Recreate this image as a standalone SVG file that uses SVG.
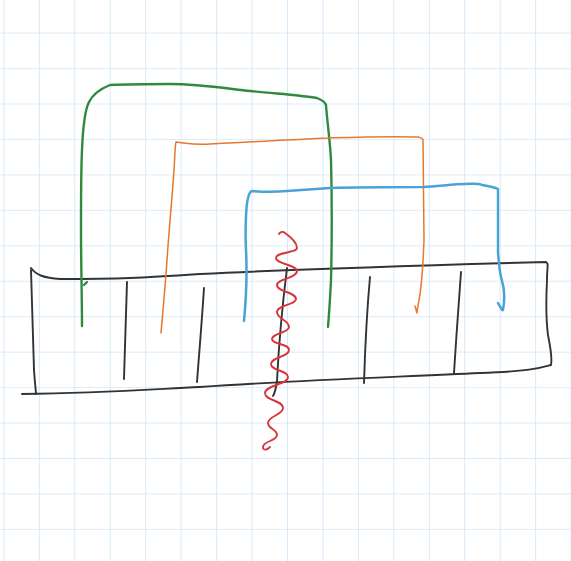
<svg xmlns="http://www.w3.org/2000/svg" width="571" height="561" viewBox="0 0 571 561">
<defs>
<pattern id="grid" x="3.4" y="32.6" width="35.45" height="35.45" patternUnits="userSpaceOnUse">
<path d="M0 0 H35.45 M0 0 V35.45" fill="none" stroke="#d0e6f7" stroke-width="1.7"/>
</pattern>
<style>
.s{fill:none;stroke-linecap:round;stroke-linejoin:round}
.k{stroke:#333;stroke-width:1.9}
.g{stroke:#2f8a3f;stroke-width:2.4}
.o{stroke:#e8772e;stroke-width:1.5}
.b{stroke:#4ba2d7;stroke-width:2.5}
.r{stroke:#d8343b;stroke-width:1.9}
</style>
</defs>
<rect width="571" height="561" fill="#fff"/>
<rect width="571" height="561" fill="url(#grid)"/>
<g id="box">
<path class="s k" d="M31 268 C36 275 44 278 60 279 C120 279 140 278 200 274 C300 269 400 266 546 262 C549 264 547 266 547 280 C546 300 546 320 548 335 C551 350 552 360 551 365 C540 368 533 371 480 373 C400 377 300 380 200 387 C140 390 100 393 22 394"/>
<path class="s k" d="M31 270 C32 300 33 340 34 370 C35 385 36 392 36 394"/>
<path class="s k" d="M127 282 C126 310 125 345 124 379"/>
<path class="s k" d="M204 288 C202 320 199 355 197 382"/>
<path class="s k" d="M287 268 C283 300 279 340 277 381 C276 388 275 393 273 396"/>
<path class="s k" d="M370 277 C367 310 365 350 364 383"/>
<path class="s k" d="M461 272 C459 300 456 340 454 373"/>
</g>
<g id="connectors">
<path id="green" class="s g" d="M82 326 C82 300 81 260 81 230 C81 200 81 170 82 150 C83 125 85 110 89 102 C93 94 100 89 110 85 C130 84 150 84 170 84 C200 84 230 89 250 91 C280 94 300 95 317 98 C322 100 325 102 326 105 C327 120 330 140 331 160 C332 200 332 240 331 280 C330 300 329 315 328 327"/>
<path class="s g" d="M84 285 L87 282"/>
<path id="orange" class="s o" d="M161 333 C163 310 165 290 167 260 C169 230 172 200 174 170 C175 155 175 145 176 142 C185 143 195 145 210 144 C240 143 260 141 287 140 C310 139 320 138 327 138 C360 137 390 136 418 137 C422 138 423 139 423 140 C423 170 424 210 424 240 C423 265 421 290 419 300 C418 306 417 310 417 313 M415 306 L417 313"/>
<path id="blue" class="s b" d="M244 321 C246 300 247 270 246 250 C245 230 246 205 248 198 C249 194 250 191 252 191 C265 192 275 192 287 191 C300 190 315 189 330 188 C360 187 400 187 423 187 C440 186 455 184 465 184 C472 184 478 183 482 185 C488 186 494 187 498 189 C498 210 498 235 498 253 C499 265 500 275 502 281 C505 290 505 298 503 310 M498 303 L502 310"/>
<path id="red" class="s r" d="M279 234 C280 232 283 231 285 233 C292 238 297 243 297 248 C297 253 276 252 276 258 C276 264 297 265 297 271 C297 278 277 279 277 285 C277 292 296 292 296 299 C296 305 277 305 277 312 C277 319 289 320 289 327 C289 333 272 333 272 339 C272 345 289 343 289 350 C289 357 271 357 271 364 C271 371 288 370 288 377 C288 385 265 385 265 393 C265 401 283 400 283 408 C283 415 268 416 268 423 C268 429 277 429 277 435 C277 441 263 441 263 447 C263 451 267 450 270 447"/>
</g>
</svg>
